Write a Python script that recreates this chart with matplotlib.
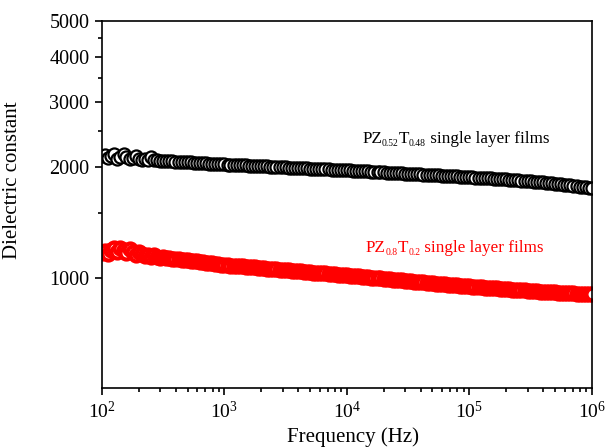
import numpy as np
import matplotlib
matplotlib.use('Agg')
import matplotlib.pyplot as plt
from matplotlib.ticker import FixedLocator, NullFormatter, LogLocator
from matplotlib.transforms import offset_copy

plt.rcParams['font.family'] = 'Liberation Serif'

# frequency sweep (Hz), 40 points per decade
freq = [100, 106, 112, 119, 126, 133, 141, 150, 158, 168, 178, 188, 200, 211, 224, 237, 251, 266, 282, 299,
        316, 335, 355, 376, 398, 422, 447, 473, 501, 531, 562, 596, 631, 668, 708, 750, 794, 841, 891, 944,
        1000, 1060, 1120, 1190, 1260, 1330, 1410, 1500, 1580, 1680, 1780, 1880, 2000, 2110, 2240, 2370, 2510, 2660, 2820, 2990,
        3160, 3350, 3550, 3760, 3980, 4220, 4470, 4730, 5010, 5310, 5620, 5960, 6310, 6680, 7080, 7500, 7940, 8410, 8910, 9440,
        10000, 10600, 11200, 11900, 12600, 13300, 14100, 15000, 15800, 16800, 17800, 18800, 20000, 21100, 22400, 23700, 25100, 26600, 28200, 29900,
        31600, 33500, 35500, 37600, 39800, 42200, 44700, 47300, 50100, 53100, 56200, 59600, 63100, 66800, 70800, 75000, 79400, 84100, 89100, 94400,
        100000, 106000, 112000, 119000, 126000, 133000, 141000, 150000, 158000, 168000, 178000, 188000, 200000, 211000, 224000, 237000, 251000, 266000, 282000, 299000,
        316000, 335000, 355000, 376000, 398000, 422000, 447000, 473000, 501000, 531000, 562000, 596000, 631000, 668000, 708000, 750000, 794000, 841000, 891000, 944000,
        1000000]

# PZ0.52T0.48 dielectric constant
eps_pzt52 = [2140, 2155, 2120, 2150, 2165, 2110, 2135, 2175, 2125, 2105, 2115, 2140, 2100, 2095, 2110, 2090, 2125, 2095, 2085, 2080,
             2082, 2078, 2075, 2072, 2070, 2068, 2066, 2063, 2061, 2059, 2057, 2054, 2052, 2050, 2047, 2045, 2043, 2040, 2038, 2035,
             2033, 2031, 2029, 2027, 2025, 2024, 2022, 2020, 2018, 2016, 2014, 2013, 2011, 2009, 2007, 2005, 2003, 2002, 2000, 1998,
             1996, 1994, 1992, 1991, 1989, 1987, 1985, 1983, 1981, 1980, 1978, 1976, 1974, 1972, 1970, 1969, 1967, 1965, 1963, 1962,
             1960, 1958, 1956, 1954, 1951, 1949, 1947, 1945, 1943, 1941, 1939, 1937, 1935, 1932, 1930, 1928, 1926, 1924, 1922, 1920,
             1918, 1916, 1913, 1911, 1909, 1907, 1905, 1903, 1901, 1899, 1897, 1895, 1893, 1891, 1889, 1887, 1885, 1883, 1881, 1879,
             1877, 1875, 1873, 1871, 1869, 1867, 1864, 1862, 1860, 1857, 1855, 1852, 1850, 1847, 1845, 1842, 1839, 1836, 1834, 1831,
             1828, 1825, 1822, 1819, 1816, 1813, 1809, 1806, 1802, 1799, 1795, 1791, 1787, 1783, 1779, 1775, 1770, 1766, 1761, 1756,
             1751]

# PZ0.8T0.2 dielectric constant
eps_pzt80 = [1165, 1180, 1160, 1190, 1200, 1175, 1205, 1185, 1165, 1195, 1170, 1150, 1175, 1160, 1145, 1150, 1140, 1155, 1138, 1132,
             1135, 1128, 1130, 1124, 1126, 1120, 1118, 1116, 1113, 1111, 1108, 1106, 1103, 1101, 1098, 1096, 1093, 1090, 1088, 1085,
             1082, 1080, 1078, 1077, 1075, 1073, 1072, 1070, 1068, 1066, 1065, 1063, 1061, 1059, 1058, 1056, 1054, 1053, 1051, 1049,
             1048, 1046, 1044, 1043, 1041, 1039, 1037, 1036, 1034, 1032, 1031, 1029, 1027, 1026, 1024, 1022, 1021, 1019, 1017, 1016,
             1014, 1012, 1010, 1009, 1007, 1005, 1003, 1001, 999, 998, 996, 994, 992, 990, 989, 987, 985, 983, 982, 980,
             978, 976, 975, 973, 971, 970, 968, 966, 965, 963, 961, 960, 958, 956, 955, 953, 952, 950, 949, 947,
             946, 945, 943, 942, 940, 939, 938, 936, 935, 934, 932, 931, 930, 929, 927, 926, 925, 924, 922, 921,
             920, 919, 918, 916, 915, 914, 913, 912, 911, 910, 909, 908, 907, 906, 905, 904, 903, 902, 901, 900,
             899]

y_major = [1000, 2000, 3000, 4000, 5000]
y_minor = [1500, 2500, 3500, 4500]

# label pieces: (text, is_subscript)
label_52 = [('PZ', False), ('0.52', True), ('T', False), ('0.48', True), (' single layer films', False)]
label_80 = [('PZ', False), ('0.8', True), ('T', False), ('0.2', True), (' single layer films', False)]

fig = plt.figure(figsize=(6.07, 4.47), dpi=100)
ax = fig.add_axes([0.168, 0.132, 0.807, 0.821])

ax.plot(freq, eps_pzt52, 'o', ms=8.7, mfc='white', mec='black', mew=1.6)
ax.plot(freq, eps_pzt80, 'o', ms=8.7, mfc='white', mec='red', mew=3.0)

ax.set_xscale('log')
ax.set_yscale('log')
ax.set_xlim(100, 1e6)
ax.set_ylim(500, 5000)

ax.yaxis.set_major_locator(FixedLocator(y_major))
ax.yaxis.set_minor_locator(FixedLocator(y_minor))
ax.yaxis.set_major_formatter(plt.FuncFormatter(lambda v, p: '%d' % v))
ax.yaxis.set_minor_formatter(NullFormatter())
ax.xaxis.set_major_locator(LogLocator(base=10, numticks=10))
ax.xaxis.set_minor_locator(LogLocator(base=10, subs=np.arange(2, 10), numticks=10))

ax.tick_params(which='both', direction='out', top=False, right=False, width=1.2)
ax.tick_params(axis='y', labelsize=14.5)
ax.tick_params(axis='x', labelsize=14)
ax.tick_params(which='major', length=5, pad=4)
ax.tick_params(which='minor', length=3)
for s in ax.spines.values():
    s.set_linewidth(1.2)

ax.set_xlabel('Frequency (Hz)', fontsize=15)
ax.set_ylabel('Dielectric constant', fontsize=15)
ax.xaxis.set_label_coords(0.513, -0.106)
ax.yaxis.set_label_coords(-0.163, 0.567)

renderer = fig.canvas.get_renderer()


def sub_label(x, y, parts, color):
    dx = 0
    for txt, sub in parts:
        tr = offset_copy(ax.transData, fig=fig, x=dx, y=-3 if sub else 0, units='dots')
        t = ax.text(x, y, txt, transform=tr, fontsize=6.9 if sub else 12.3,
                    color=color, va='baseline', ha='left')
        dx += t.get_window_extent(renderer).width


sub_label(1.33e4, 2333, label_52, 'black')
sub_label(1.43e4, 1174, label_80, 'red')

fig.savefig('out.png', dpi=100)
